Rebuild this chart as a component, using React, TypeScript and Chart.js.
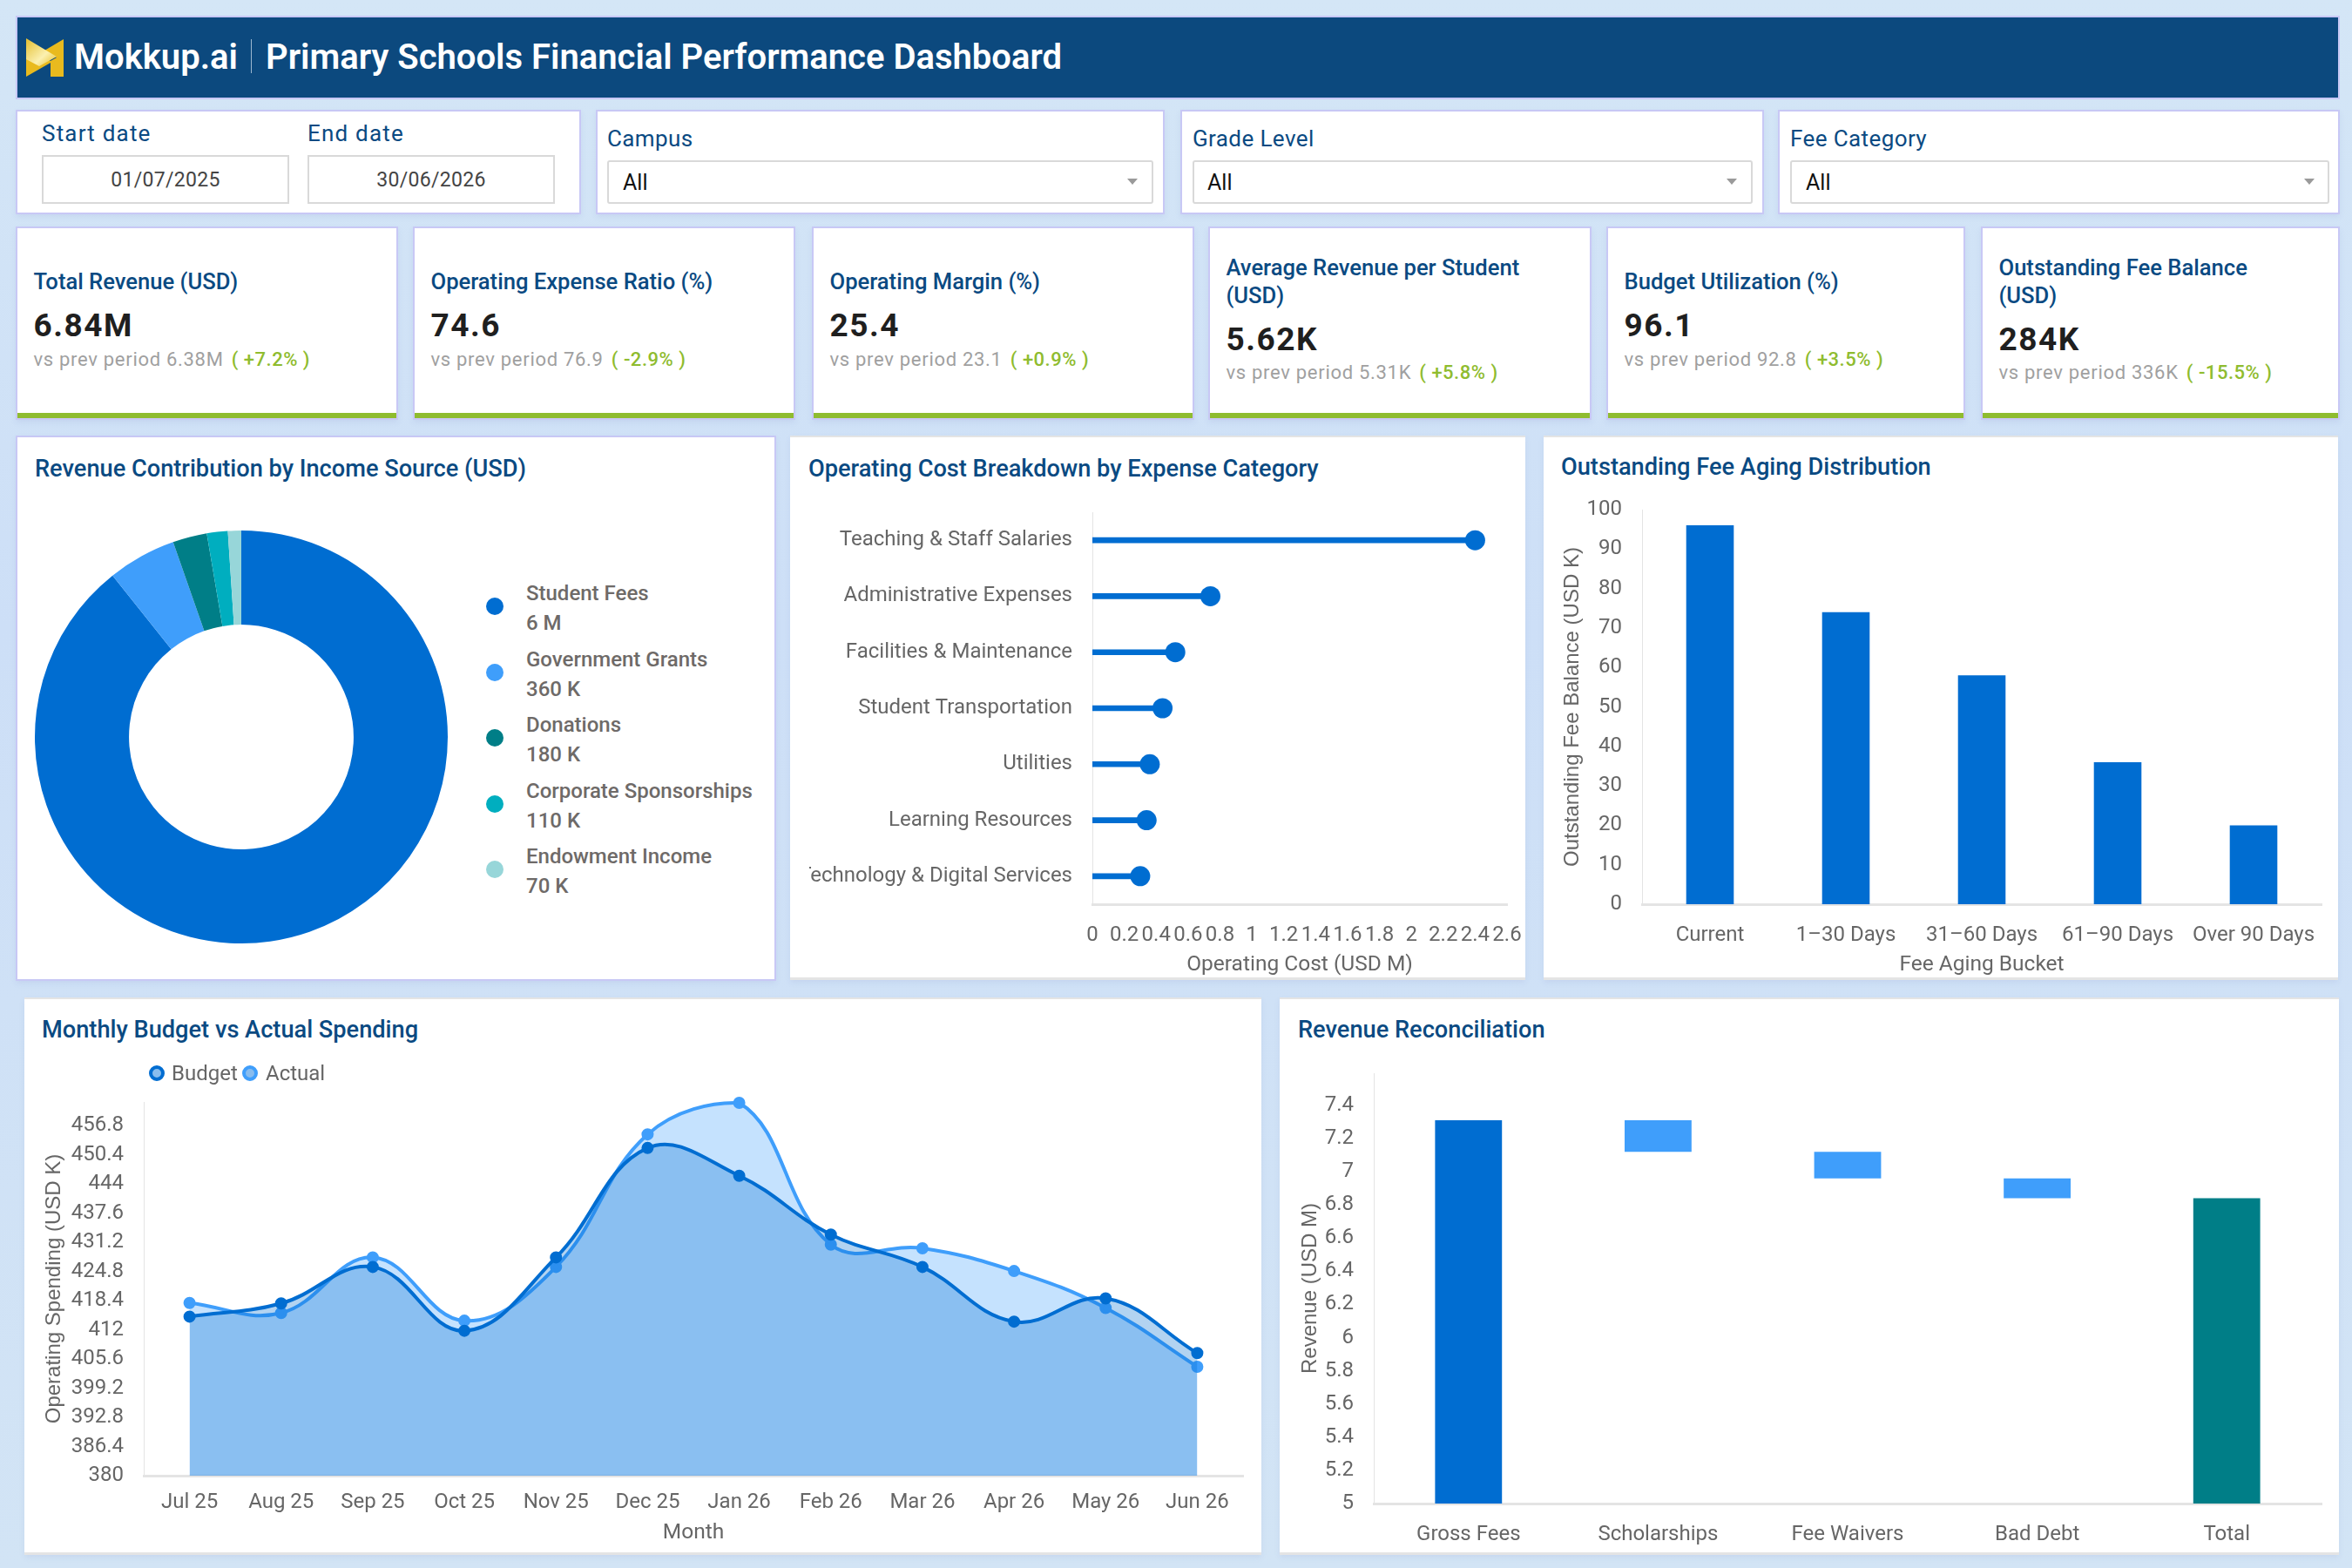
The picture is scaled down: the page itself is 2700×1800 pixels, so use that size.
import React, { useEffect, useRef } from "react";
import { Chart, registerables } from "chart.js";

Chart.register(...registerables);
Chart.defaults.font.family = "Roboto";
Chart.defaults.color = "#666666";

// donut
const incomeSources = ["Student Fees", "Government Grants", "Donations", "Corporate Sponsorships", "Endowment Income"];
const incomeValues = [6000, 360, 180, 110, 70];
const incomeLabels = ["6 M", "360 K", "180 K", "110 K", "70 K"];

// lollipop
const costCategories = [
  "Teaching & Staff Salaries",
  "Administrative Expenses",
  "Facilities & Maintenance",
  "Student Transportation",
  "Utilities",
  "Learning Resources",
  "Technology & Digital Services",
];
const costValues = [2.4, 0.74, 0.52, 0.44, 0.36, 0.34, 0.3];
const costTicks = [0, 0.2, 0.4, 0.6, 0.8, 1, 1.2, 1.4, 1.6, 1.8, 2, 2.2, 2.4, 2.6];

// aging bars
const agingBuckets = ["Current", "1\u201330 Days", "31\u201360 Days", "61\u201390 Days", "Over 90 Days"];
const agingValues = [96, 74, 58, 36, 20];
const agingTicks = [0, 10, 20, 30, 40, 50, 60, 70, 80, 90, 100];

// monthly spending
const months = ["Jul 25", "Aug 25", "Sep 25", "Oct 25", "Nov 25", "Dec 25", "Jan 26", "Feb 26", "Mar 26", "Apr 26", "May 26", "Jun 26"];
const budgetValues = [414.9, 417.8, 425.8, 411.8, 427.9, 451.9, 445.8, 432.9, 425.8, 413.8, 418.9, 406.9];
const actualValues = [417.9, 415.7, 427.9, 414, 425.8, 454.9, 461.8, 430.7, 429.9, 424.9, 416.8, 403.9];
const spendTicks = [380, 386.4, 392.8, 399.2, 405.6, 412, 418.4, 424.8, 431.2, 437.6, 444, 450.4, 456.8];

// waterfall
const reconSteps = ["Gross Fees", "Scholarships", "Fee Waivers", "Bad Debt", "Total"];
const reconLows = [5, 7.12, 6.96, 6.84, 5];
const reconHighs = [7.31, 7.31, 7.12, 6.96, 6.84];
const reconTicks = [5, 5.2, 5.4, 5.6, 5.8, 6, 6.2, 6.4, 6.6, 6.8, 7, 7.2, 7.4];

// kpi cards
const kpiTitles = [
  ["Total Revenue (USD)"],
  ["Operating Expense Ratio (%)"],
  ["Operating Margin (%)"],
  ["Average Revenue per Student", "(USD)"],
  ["Budget Utilization (%)"],
  ["Outstanding Fee Balance", "(USD)"],
];
const kpiValues = ["6.84M", "74.6", "25.4", "5.62K", "96.1", "284K"];
const kpiPrev = ["6.38M", "76.9", "23.1", "5.31K", "92.8", "336K"];
const kpiDelta = ["+7.2%", "-2.9%", "+0.9%", "+5.8%", "+3.5%", "-15.5%"];

const DARK = "#006DD1";
const LIGHT = "#3F9EFB";
const TEAL = "#007E87";
const incomeColors = [DARK, LIGHT, TEAL, "#00AEBF", "#97D6D9"];
const NAVY = "#0A4A82";
const AXIS = "#E4E4E4";
const TICK = "#666666";
const LAVENDER = "#C8C8F5";

const kpiBoxes = [
  [20, 435],
  [476, 435],
  [934, 435],
  [1389, 436],
  [1846, 408],
  [2276, 408],
];

const tickFont = { size: 24 };
const titleFont = { size: 24.5 };
const sideTitleFont = { size: 24, family: "Liberation Sans" };

const fitTo = (size) => (s) => {
  if (s.isHorizontal()) s.height = size;
  else s.width = size;
  // labels on the ends must not shrink the plot
  s.paddingLeft = 0;
  s.paddingRight = 0;
};
const useTicks = (list) => (s) => {
  s.ticks = list.map((value) => ({ value }));
};
const fmt = (v) => String(v);

const base = (padding) => ({
  responsive: true,
  maintainAspectRatio: false,
  animation: false,
  layout: { autoPadding: false, padding },
  plugins: { legend: { display: false }, tooltip: { enabled: false } },
});

const bottomAxis = (height, tickPad, title, titlePad) => ({
  type: "category",
  offset: true,
  afterFit: fitTo(height),
  grid: { display: false, drawTicks: false },
  border: { display: true, color: AXIS, width: 3 },
  ticks: { font: tickFont, color: TICK, padding: tickPad, autoSkip: false, maxRotation: 0, minRotation: 0 },
  title: title ? { display: true, text: title, font: titleFont, color: TICK, padding: titlePad } : { display: false },
});

const leftAxis = (width, min, max, list, title, titlePad) => ({
  type: "linear",
  min,
  max,
  afterFit: fitTo(width),
  afterBuildTicks: useTicks(list),
  grid: { display: false, drawTicks: false },
  border: { display: true, color: AXIS, width: 1 },
  ticks: { font: tickFont, color: TICK, padding: 23, callback: fmt, autoSkip: false, maxRotation: 0 },
  title: { display: true, text: title, font: sideTitleFont, color: TICK, padding: titlePad },
});

const donutConfig = () => ({
  type: "doughnut",
  data: {
    labels: incomeSources,
    datasets: [{ data: incomeValues, backgroundColor: incomeColors, borderWidth: 0 }],
  },
  options: { ...base(0), cutout: "54.4%" },
});

const lollipopConfig = () => ({
  type: "bar",
  data: {
    labels: costCategories,
    datasets: [
      {
        type: "line",
        data: costValues,
        showLine: false,
        pointRadius: 11.5,
        pointBackgroundColor: DARK,
        pointBorderWidth: 0,
        order: 0,
      },
      { type: "bar", data: costValues, backgroundColor: DARK, barThickness: 6, order: 1 },
    ],
  },
  options: {
    ...base({ top: 88, right: 20 }),
    indexAxis: "y",
    scales: {
      x: {
        type: "linear",
        min: 0,
        max: 2.6,
        afterFit: fitTo(86),
        afterBuildTicks: useTicks(costTicks),
        grid: { display: false, drawTicks: false },
        border: { display: true, color: AXIS, width: 3 },
        ticks: { font: tickFont, color: TICK, padding: 22, callback: fmt, autoSkip: false, maxRotation: 0, minRotation: 0 },
        title: { display: true, text: "Operating Cost (USD M)", font: titleFont, color: TICK, padding: { top: 0, bottom: 1 } },
      },
      y: {
        type: "category",
        offset: true,
        afterFit: fitTo(325),
        grid: { display: false, drawTicks: false },
        border: { display: true, color: AXIS, width: 1 },
        ticks: { font: tickFont, color: TICK, padding: 23, autoSkip: false },
      },
    },
  },
});

const agingConfig = () => ({
  type: "bar",
  data: {
    labels: agingBuckets,
    datasets: [{ data: agingValues, backgroundColor: DARK, categoryPercentage: 1, barPercentage: 0.35 }],
  },
  options: {
    ...base({ top: 85, right: 19 }),
    scales: {
      x: bottomAxis(86, 22, "Fee Aging Bucket", { top: 0, bottom: 1 }),
      y: leftAxis(113, 0, 100, agingTicks, "Outstanding Fee Balance (USD K)", { top: 19, bottom: 0 }),
    },
  },
});

const spendConfig = () => ({
  type: "line",
  data: {
    labels: months,
    datasets: [
      {
        label: "Budget",
        data: budgetValues,
        borderColor: DARK,
        backgroundColor: "rgba(0,109,209,0.3)",
        pointBackgroundColor: DARK,
        pointBorderColor: DARK,
        borderWidth: 4,
        pointRadius: 5,
        tension: 0.4,
        fill: "origin",
        clip: false,
      },
      {
        label: "Actual",
        data: actualValues,
        borderColor: LIGHT,
        backgroundColor: "rgba(63,158,251,0.3)",
        pointBackgroundColor: LIGHT,
        pointBorderColor: LIGHT,
        borderWidth: 4,
        pointRadius: 5,
        tension: 0.4,
        fill: "origin",
        clip: false,
      },
    ],
  },
  options: {
    ...base({ top: 120, right: 21 }),
    scales: {
      x: bottomAxis(90, 17, "Month", { top: 0, bottom: 9 }),
      y: leftAxis(137, 380, 462, spendTicks, "Operating Spending (USD K)", { top: 20, bottom: 0 }),
    },
  },
});

const reconConfig = () => ({
  type: "bar",
  data: {
    labels: reconSteps,
    datasets: [
      {
        data: reconLows.map((low, i) => [low, reconHighs[i]]),
        backgroundColor: [DARK, LIGHT, LIGHT, LIGHT, TEAL],
        categoryPercentage: 1,
        barPercentage: 0.353,
      },
    ],
  },
  options: {
    ...base({ top: 87, right: 20 }),
    scales: {
      x: bottomAxis(58, 22),
      y: leftAxis(108, 5, 7.594, reconTicks, "Revenue (USD M)", { top: 21, bottom: 0 }),
    },
  },
});

function ChartBox({ config, x, y, w, h }) {
  const ref = useRef(null);
  useEffect(() => {
    const chart = new Chart(ref.current.getContext("2d"), config());
    return () => chart.destroy();
  }, [config]);
  return (
    <div style={{ position: "absolute", left: x, top: y, width: w, height: h }}>
      <canvas ref={ref} />
    </div>
  );
}

// text placed by left edge and vertical centre
function T({ x, y, size, color, weight = 400, spacing = 0, children, center = false }) {
  return (
    <div
      style={{
        position: "absolute",
        left: x,
        top: y,
        transform: center ? "translate(-50%,-50%)" : "translateY(-50%)",
        fontSize: size,
        color,
        fontWeight: weight,
        letterSpacing: spacing,
        whiteSpace: "nowrap",
        lineHeight: 1,
      }}
    >
      {children}
    </div>
  );
}

function Panel({ x, y, r, b, border = false, children = null }) {
  return (
    <div
      style={{
        position: "absolute",
        left: x,
        top: y,
        width: r - x,
        height: b - y,
        boxSizing: "border-box",
        background: "#fff",
        border: border ? `2px solid ${LAVENDER}` : "none",
        borderBottom: border ? `2px solid ${LAVENDER}` : `3px solid ${AXIS}`,
        borderTop: border ? `2px solid ${LAVENDER}` : `2px solid ${AXIS}`,
        boxShadow: "0 3px 6px rgba(120,130,200,0.12)",
      }}
    >
      {children}
    </div>
  );
}

function Select({ label, panel, labelX, boxL, boxR, allX, caretX }) {
  return (
    <>
      <Panel x={panel[0]} y={126} r={panel[1]} b={246} border />
      <T x={labelX} y={159} size={26} color={NAVY} spacing={0.4}>
        {label}
      </T>
      <div
        style={{
          position: "absolute",
          left: boxL,
          top: 184,
          width: boxR - boxL,
          height: 50,
          boxSizing: "border-box",
          border: "2px solid #D9D9D9",
          borderRadius: 3,
          background: "#fff",
        }}
      />
      <T x={allX} y={209} size={25} color="#111">
        All
      </T>
      <div
        style={{
          position: "absolute",
          left: caretX - 6,
          top: 205,
          width: 0,
          height: 0,
          borderLeft: "6px solid transparent",
          borderRight: "6px solid transparent",
          borderTop: "7px solid #9A9A9A",
        }}
      />
    </>
  );
}

function DateBox({ label, x, value }) {
  return (
    <>
      <T x={x} y={153} size={26} color={NAVY} spacing={1.2}>
        {label}
      </T>
      <div
        style={{
          position: "absolute",
          left: x,
          top: 178,
          width: 284,
          height: 56,
          boxSizing: "border-box",
          border: "2px solid #D9D9D9",
          background: "#fff",
        }}
      />
      <T x={x + 142} y={206} size={23} color="#444" center spacing={0.3}>
        {value}
      </T>
    </>
  );
}

function Kpi({ i }) {
  const [x, w] = kpiBoxes[i];
  const two = kpiTitles[i].length > 1;
  return (
    <>
      <Panel x={x - 2} y={260} r={x + w + 2} b={482} border />
      <div style={{ position: "absolute", left: x, top: 474, width: w, height: 6, background: "#8FBC2F" }} />
      {kpiTitles[i].map((line, n) => (
        <T key={n} x={x + 18.5} y={(two ? 307.5 : 323.5) + n * 32} size={25.6} color={NAVY} weight={500}>
          {line}
        </T>
      ))}
      <T x={x + 18.5} y={two ? 389 : 373} size={37} color="#1F1F1F" weight={700} spacing={1.5}>
        {kpiValues[i]}
      </T>
      <T x={x + 18.5} y={two ? 428 : 413} size={22} color="#A0A0A0" spacing={0.7}>
        {"vs prev period " + kpiPrev[i] + " "}
        <span style={{ color: "#8FBC2F", fontWeight: 500, marginLeft: 3, letterSpacing: 0.5 }}>{"( " + kpiDelta[i] + " )"}</span>
      </T>
    </>
  );
}

function Logo() {
  return (
    <svg style={{ position: "absolute", left: 30, top: 44 }} width={44} height={45} viewBox="0 0 44 45">
      <defs>
        <linearGradient id="mk" x1="0" y1="0" x2="1" y2="1">
          <stop offset="0" stopColor="#E4BE2E" />
          <stop offset="0.6" stopColor="#FBF0B0" />
          <stop offset="1" stopColor="#E8BE22" />
        </linearGradient>
      </defs>
      <path d="M43 1 L21 14 L35 22 L28 26 L28 44 L43 44 Z" fill="#E9BA1E" />
      <path d="M0 24 L14 18 L28 26 L28 28 L0 44 Z" fill="#E9BA1E" />
      <path d="M0 0 L35 21 L15 32 L0 24 Z" fill="url(#mk)" />
    </svg>
  );
}

export default function App() {
  return (
    <div
      style={{
        position: "absolute",
        left: 0,
        top: 0,
        width: 2700,
        height: 1800,
        overflow: "hidden",
        fontFamily: "Roboto",
        background: "linear-gradient(180deg,#D4E6F6 0%,#CDDFF7 40%,#D2E4F5 100%)",
      }}
    >
      {/* header */}
      <div style={{ position: "absolute", left: 18, top: 18, width: 2668, height: 96, boxSizing: "border-box", background: "#0C497E", border: `2px solid ${LAVENDER}` }} />
      <Logo />
      <T x={85} y={66} size={40} color="#fff" weight={600}>
        Mokkup.ai
      </T>
      <div style={{ position: "absolute", left: 288, top: 45, width: 1, height: 39, background: "#9DB8D0" }} />
      <T x={305} y={66} size={40} color="#fff" weight={600}>
        Primary Schools Financial Performance Dashboard
      </T>

      {/* filters */}
      <Panel x={18} y={126} r={667} b={246} border />
      <DateBox label="Start date" x={48} value="01/07/2025" />
      <DateBox label="End date" x={353} value="30/06/2026" />
      <Select label="Campus" panel={[684, 1337]} labelX={697} boxL={697} boxR={1324} allX={715} caretX={1300} />
      <Select label="Grade Level" panel={[1355, 2025]} labelX={1369} boxL={1369} boxR={2012} allX={1386} caretX={1988} />
      <Select label="Fee Category" panel={[2041, 2686]} labelX={2055} boxL={2055} boxR={2674} allX={2073} caretX={2651} />

      {/* kpis */}
      {kpiValues.map((_, i) => (
        <Kpi key={i} i={i} />
      ))}

      {/* donut */}
      <Panel x={18} y={500} r={891} b={1126} border />
      <T x={40} y={539} size={27.2} color={NAVY} weight={500}>
        Revenue Contribution by Income Source (USD)
      </T>
      <ChartBox config={donutConfig} x={40} y={609} w={474} h={474} />
      {incomeSources.map((name, i) => (
        <React.Fragment key={name}>
          <div
            style={{
              position: "absolute",
              left: 558,
              top: 686 + i * 75.5,
              width: 20,
              height: 20,
              borderRadius: "50%",
              background: incomeColors[i],
            }}
          />
          <T x={604} y={681 + i * 75.5} size={24} color="#6E6A68" weight={500}>
            {name}
          </T>
          <T x={604} y={715 + i * 75.5} size={24} color="#6E6A68" weight={500}>
            {incomeLabels[i]}
          </T>
        </React.Fragment>
      ))}

      {/* lollipop */}
      <Panel x={907} y={500} r={1751} b={1125} />
      <T x={928} y={539} size={27.2} color={NAVY} weight={500}>
        Operating Cost Breakdown by Expense Category
      </T>
      <ChartBox config={lollipopConfig} x={929} y={500} w={821} h={624} />

      {/* aging */}
      <Panel x={1772} y={500} r={2684} b={1125} />
      <T x={1792} y={537} size={27.2} color={NAVY} weight={500}>
        Outstanding Fee Aging Distribution
      </T>
      <ChartBox config={agingConfig} x={1772} y={500} w={912} h={624} />

      {/* monthly */}
      <Panel x={28} y={1145} r={1448} b={1785} />
      <T x={48} y={1183} size={27.2} color={NAVY} weight={500}>
        Monthly Budget vs Actual Spending
      </T>
      <ChartBox config={spendConfig} x={28} y={1145} w={1420} h={639} />
      {["Budget", "Actual"].map((name, i) => (
        <React.Fragment key={name}>
          <div
            style={{
              position: "absolute",
              left: 171 + i * 107,
              top: 1223,
              width: 18,
              height: 18,
              boxSizing: "border-box",
              borderRadius: "50%",
              border: `4px solid ${i === 0 ? DARK : LIGHT}`,
              background: "#88BCEE",
            }}
          />
          <T x={197 + i * 108} y={1232} size={24} color="#666">
            {name}
          </T>
        </React.Fragment>
      ))}

      {/* waterfall */}
      <Panel x={1469} y={1145} r={2685} b={1785} />
      <T x={1490} y={1183} size={27.2} color={NAVY} weight={500}>
        Revenue Reconciliation
      </T>
      <ChartBox config={reconConfig} x={1469} y={1145} w={1216} h={639} />
    </div>
  );
}
